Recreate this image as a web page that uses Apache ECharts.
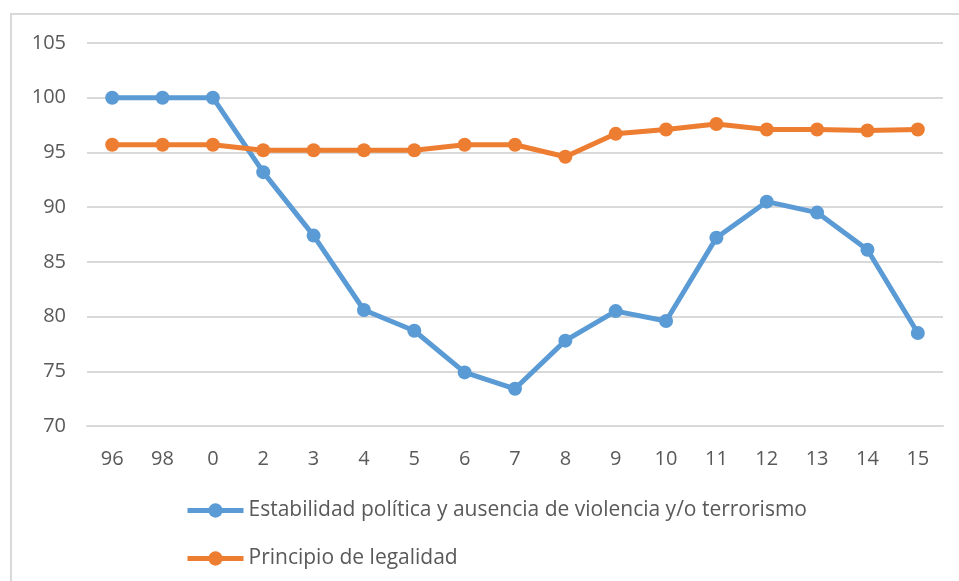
<!DOCTYPE html>
<html>
<head>
<meta charset="utf-8">
<script src="https://cdn.jsdelivr.net/npm/echarts@6/dist/echarts.min.js"></script>
<style>
  html, body { margin: 0; padding: 0; background: #fff; }
  #chart { width: 959px; height: 581px; }
</style>
</head>
<body>
<div id="chart"></div>
<script>
const years = ["96", "98", "0", "2", "3", "4", "5", "6", "7", "8", "9", "10", "11", "12", "13", "14", "15"];
const estabilidad = [100, 100, 100, 93.2, 87.4, 80.6, 78.7, 74.9, 73.4, 77.8, 80.5, 79.6, 87.2, 90.5, 89.5, 86.1, 78.5];
const legalidad = [95.7, 95.7, 95.7, 95.2, 95.2, 95.2, 95.2, 95.7, 95.7, 94.6, 96.7, 97.1, 97.6, 97.1, 97.1, 97.0, 97.1];
const seriesNames = ["Estabilidad política y ausencia de violencia y/o terrorismo", "Principio de legalidad"];

const textColor = "#595959";
const gridColor = "#d9d9d9";
const fontFamily = "'Open Sans', 'Liberation Sans', sans-serif";

const myChart = echarts.init(document.getElementById("chart"));

const makeSeries = (name, data, color) => ({
  name: name,
  type: "line",
  data: data,
  symbol: "circle",
  symbolSize: 14,
  lineStyle: { width: 5, color: color },
  itemStyle: { color: color },
});

myChart.setOption({
  animation: false,
  graphic: [
    {
      type: "rect",
      shape: { x: 11, y: 14, width: 1000, height: 1000 },
      style: { fill: "none", stroke: gridColor, lineWidth: 2 },
      silent: true,
    },
  ],
  grid: {
    left: 87,
    right: 16,
    top: 43,
    bottom: 155,
  },
  legend: {
    orient: "vertical",
    left: 180,
    top: 495,
    itemWidth: 56,
    itemHeight: 18,
    itemGap: 27,
    lineStyle: { width: 5 },
    textStyle: {
      color: textColor,
      fontSize: 21,
      fontFamily: fontFamily,
    },
    data: seriesNames,
  },
  xAxis: {
    type: "category",
    data: years,
    boundaryGap: true,
    axisLine: { lineStyle: { color: gridColor, width: 2 } },
    axisTick: { show: false },
    axisLabel: {
      color: textColor,
      fontSize: 20,
      fontFamily: fontFamily,
      margin: 23,
      interval: 0,
    },
  },
  yAxis: {
    type: "value",
    min: 70,
    max: 105,
    interval: 5,
    axisLine: { show: false },
    axisTick: { show: false },
    axisLabel: {
      color: textColor,
      fontSize: 20,
      fontFamily: fontFamily,
      margin: 21,
    },
    splitLine: { lineStyle: { color: gridColor, width: 2 } },
  },
  series: [
    makeSeries(seriesNames[0], estabilidad, "#5b9bd5"),
    makeSeries(seriesNames[1], legalidad, "#ed7d31"),
  ],
});
</script>
</body>
</html>
